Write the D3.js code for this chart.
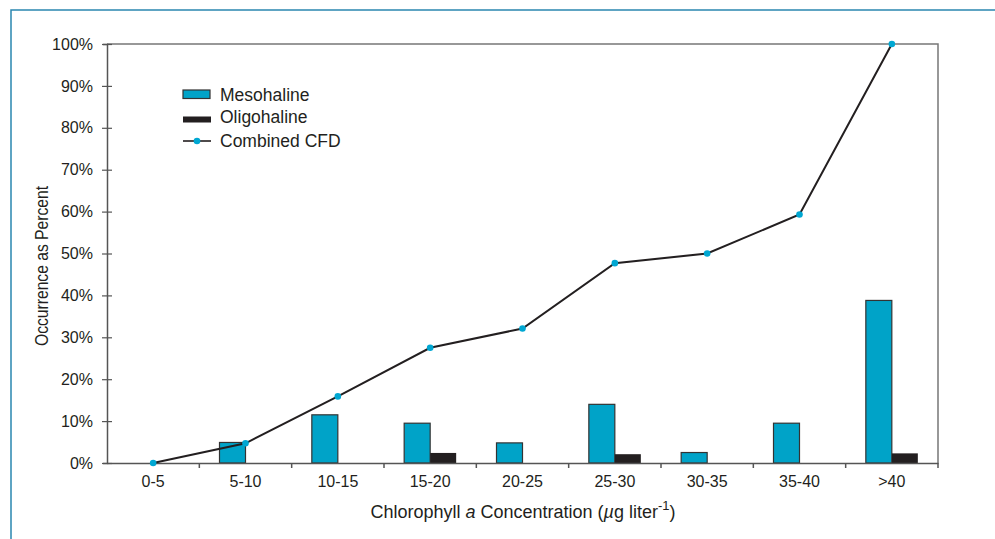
<!DOCTYPE html>
<html><head><meta charset="utf-8">
<script src="https://cdn.jsdelivr.net/npm/d3@7"></script>
<style>
body{margin:0;background:#fff;}
text{font-family:"Liberation Sans",Arial,Helvetica,sans-serif;fill:#231f20;}
</style></head>
<body><svg id="c" width="995" height="539"></svg>
<script>
const categories = ["0-5","5-10","10-15","15-20","20-25","25-30","30-35","35-40",">40"];
const mesohaline = [0, 4.9, 11.5, 9.5, 4.8, 14.0, 2.5, 9.5, 38.8];
const oligohaline = [0, 0, 0, 2.4, 0, 2.1, 0, 0, 2.3];
const combinedCFD = [0, 4.7, 15.9, 27.5, 32.1, 47.7, 50.0, 59.3, 100];
const yTicks = [0,10,20,30,40,50,60,70,80,90,100];

(function(){
const svg = d3.select("#c");
const pL = 107, pR = 938, pT = 44, pB = 463;
const x = d3.scaleBand().domain(categories).range([pL, pR]).padding(0);
const y = d3.scaleLinear().domain([0, 100]).range([pB, pT]);
const barW = 26;
const meso = "#00a3c8", oligo = "#231f20", axisCol = "#555";

// frame
svg.append("path").attr("d", "M11,539 V10 H995").attr("fill","none")
  .attr("stroke","#2a86b0").attr("stroke-width",1.5);

// plot border top/right
svg.append("path").attr("d", `M${pL},${pT} H${pR} V${pB}`).attr("fill","none")
  .attr("stroke","#777").attr("stroke-width",1.5);

// bars
const rows = categories.map((c,i)=>({c, m:mesohaline[i], o:oligohaline[i], f:combinedCFD[i]}));
const cx = c => x(c) + x.bandwidth()/2;
svg.append("g").selectAll("rect").data(rows.filter(d=>d.m>0)).join("rect")
  .attr("x", d=>cx(d.c)-barW).attr("y", d=>y(d.m)).attr("width", barW).attr("height", d=>y(0)-y(d.m))
  .attr("fill", meso).attr("stroke","#333").attr("stroke-width",1.2);
svg.append("g").selectAll("rect").data(rows.filter(d=>d.o>0)).join("rect")
  .attr("x", d=>cx(d.c)).attr("y", d=>y(d.o)).attr("width", barW).attr("height", d=>y(0)-y(d.o))
  .attr("fill", oligo);

// y axis
const ya = svg.append("g").attr("transform",`translate(${pL},0)`)
  .call(d3.axisLeft(y).tickValues(yTicks).tickFormat(d=>d+"%").tickSize(4).tickPadding(10));
ya.select(".domain").attr("stroke",axisCol).attr("stroke-width",1.5);
ya.selectAll(".tick line").attr("x1",-5).attr("x2",5).attr("stroke",axisCol).attr("stroke-width",1.2);
ya.selectAll(".tick text").attr("x",-14).style("font-size","16px").attr("fill","#231f20");

// x axis
const xa = svg.append("g").attr("transform",`translate(0,${pB})`)
  .call(d3.axisBottom(x).tickSize(0).tickPadding(13));
xa.select(".domain").attr("stroke",axisCol).attr("stroke-width",1.5);
xa.selectAll(".tick text").style("font-size","16px").attr("fill","#231f20");
const bounds = categories.map(c=>x(c)).concat([pR]).slice(1);
xa.append("g").selectAll("line").data(bounds).join("line")
  .attr("x1",d=>d).attr("x2",d=>d).attr("y1",0).attr("y2",5)
  .attr("stroke",axisCol).attr("stroke-width",1.5);

// line
const line = d3.line().x(d=>cx(d.c)).y(d=>y(d.f));
svg.append("path").datum(rows).attr("d", line).attr("fill","none")
  .attr("stroke","#231f20").attr("stroke-width",2);
svg.append("g").selectAll("circle").data(rows).join("circle")
  .attr("cx", d=>cx(d.c)).attr("cy", d=>y(d.f)).attr("r",3.3).attr("fill","#00a7d2");

// axis titles
svg.append("text").attr("x",523).attr("y",518).attr("text-anchor","middle").style("font-size","18px")
  .html('Chlorophyll <tspan font-style="italic">a</tspan> Concentration (<tspan font-style="italic">µ</tspan>g liter<tspan dy="-8" font-size="13px">-1</tspan><tspan dy="8">)</tspan>');
svg.append("text").attr("transform","translate(48,266) rotate(-90) scale(0.87,1)").attr("text-anchor","middle")
  .style("font-size","18px").text("Occurrence as Percent");

// legend
const lg = svg.append("g");
lg.append("rect").attr("x",183).attr("y",90).attr("width",27).attr("height",8.5).attr("fill",meso).attr("stroke","#333").attr("stroke-width",1.2);
lg.append("rect").attr("x",183).attr("y",116.5).attr("width",28).attr("height",6).attr("fill",oligo);
lg.append("line").attr("x1",183).attr("x2",211).attr("y1",141).attr("y2",141).attr("stroke","#231f20").attr("stroke-width",1.6);
lg.append("circle").attr("cx",197).attr("cy",141).attr("r",3.3).attr("fill","#00a7d2");
const lt = [["Mesohaline",101],["Oligohaline",123],["Combined CFD",147]];
lg.selectAll("text").data(lt).join("text").attr("x",220).attr("y",d=>d[1]).style("font-size","17.5px").text(d=>d[0]);
})();
</script></body></html>
